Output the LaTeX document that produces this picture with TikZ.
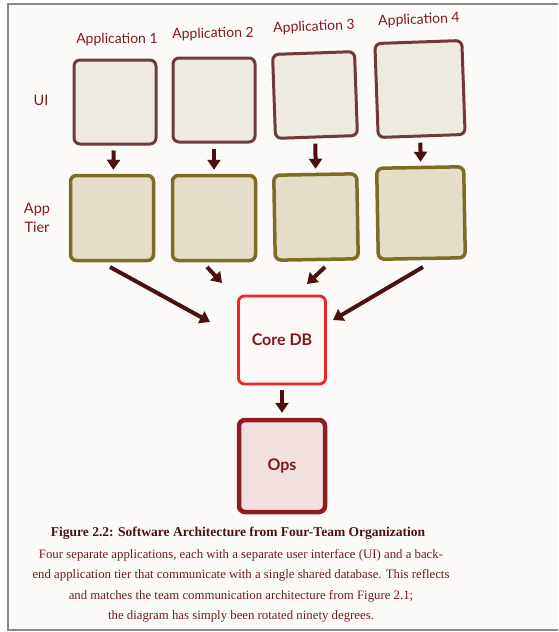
\documentclass[tikz,border=0pt]{standalone}
\usepackage{fontspec}
\setmainfont{Liberation Serif}
\newfontfamily\labfont{Lato}
\usetikzlibrary{arrows.meta,calc}
\definecolor{labred}{HTML}{7B1C1C}
\definecolor{uiborder}{HTML}{6E3A3A}
\definecolor{uifill}{HTML}{EEE9E1}
\definecolor{appborder}{HTML}{7D6C28}
\definecolor{appfill}{HTML}{E4DDC8}
\definecolor{coreborder}{HTML}{E8262A}
\definecolor{corefill}{HTML}{FDF8F7}
\definecolor{opsborder}{HTML}{8E1C22}
\definecolor{opsfill}{HTML}{F2E0DF}
\definecolor{arrcol}{HTML}{4D1010}
\definecolor{captcol}{HTML}{6A1E1E}
\definecolor{titlecol}{HTML}{4A1212}
\definecolor{pagecol}{HTML}{FBFAF8}
\definecolor{framecol}{HTML}{8A8A8A}
\tikzset{
  lab/.style={font=\labfont\fontsize{14}{16}\selectfont, text=labred},
  rowlab/.style={font=\labfont\fontsize{14.5}{19.5}\selectfont, text=labred, align=center},
  uibox/.style={draw=uiborder, fill=uifill, line width=3pt, rounded corners=6pt, minimum width=82pt, minimum height=84pt},
  appbox/.style={draw=appborder, fill=appfill, line width=3.5pt, rounded corners=6pt, minimum width=83pt, minimum height=85pt},
  corebox/.style={draw=coreborder, fill=corefill, line width=2.8pt, rounded corners=6pt, minimum width=87pt, minimum height=88pt, font=\labfont\bfseries\fontsize{16}{18}\selectfont, text=labred},
  opsbox/.style={draw=opsborder, fill=opsfill, line width=4.5pt, rounded corners=6pt, minimum width=86pt, minimum height=92pt, font=\labfont\bfseries\fontsize{16}{18}\selectfont, text=labred},
  arr/.style={draw=arrcol, line width=4pt, -{Triangle[length=10pt,width=13pt]}},
  capt/.style={text=captcol, font=\fontsize{12.8}{20.3}\selectfont, align=center},
}
\begin{document}
\begin{tikzpicture}[x=1pt,y=-1pt]
\useasboundingbox (0,0) rectangle (558,632);
\fill[white] (0,0) rectangle (558,632);
\fill[pagecol] (8,4) rectangle (558,630);
\draw[framecol, line width=2pt] (558,4) -- (8,4) -- (8,630) -- (558,630);

% column labels
\node[lab] (l1) at (117,40) {Application 1};
\node[lab, rotate=1] (l2) at (213,34) {Application 2};
\node[lab, rotate=2] (l3) at (314,27) {Application 3};
\node[lab, rotate=2] (l4) at (419,20) {Application 4};
\node[rowlab] (rui) at (41,100) {UI};
\node[rowlab] (rapp) at (37,218) {App\\Tier};

% UI row
\node[uibox] (ui1) at (115,102) {};
\node[uibox] (ui2) at (214,100) {};
\node[uibox, rotate=2] (ui3) at (315,95) {};
\node[uibox, rotate=2, minimum width=87pt, minimum height=94pt] (ui4) at (420,89) {};

% App tier row
\node[appbox] (app1) at (112,218) {};
\node[appbox] (app2) at (214,218) {};
\node[appbox, rotate=1] (app3) at (316,217) {};
\node[appbox, rotate=1, minimum width=87pt, minimum height=91pt] (app4) at (421,213) {};

% core and ops
\node[corebox] (core) at (282,340) {Core DB};
\node[opsbox] (ops) at (282,466) {Ops};

% free ends of the diagonal connectors
\coordinate (s1) at (110,267);
\coordinate (e1) at (210,322);
\coordinate (s2) at (207,267);
\coordinate (e2) at (222,283);
\coordinate (s3) at (325,267);
\coordinate (e3) at (307,284);
\coordinate (s4) at (423,267);
\coordinate (e4) at (333,320);

% arrows UI -> App
\draw[arr, shorten <=5pt, shorten >=4pt] (ui1) -- (app1);
\draw[arr, shorten <=5pt, shorten >=4pt] (ui2) -- (app2);
\draw[arr, shorten <=5pt, shorten >=4pt] (ui3) -- (app3);
\draw[arr, shorten <=5pt, shorten >=4pt] (ui4) -- (app4);

% arrows App -> Core
\draw[arr] (s1) -- (e1);
\draw[arr] (s2) -- (e2);
\draw[arr] (s3) -- (e3);
\draw[arr] (s4) -- (e4);

% Core -> Ops
\draw[arr, shorten <=5pt, shorten >=5pt] (core) -- (ops);

% caption
\node[text=titlecol, font=\bfseries\fontsize{13.5}{16}\selectfont] (title) at (238,533) {Figure 2.2: Software Architecture from Four-Team Organization};
\node[capt] (body) at (241,586) {Four separate applications, each with a separate user interface (UI) and a back-\\
end application tier that communicate with a single shared database. This reflects\\
and matches the team communication architecture from Figure 2.1;\\
the diagram has simply been rotated ninety degrees.};
\end{tikzpicture}
\end{document}
